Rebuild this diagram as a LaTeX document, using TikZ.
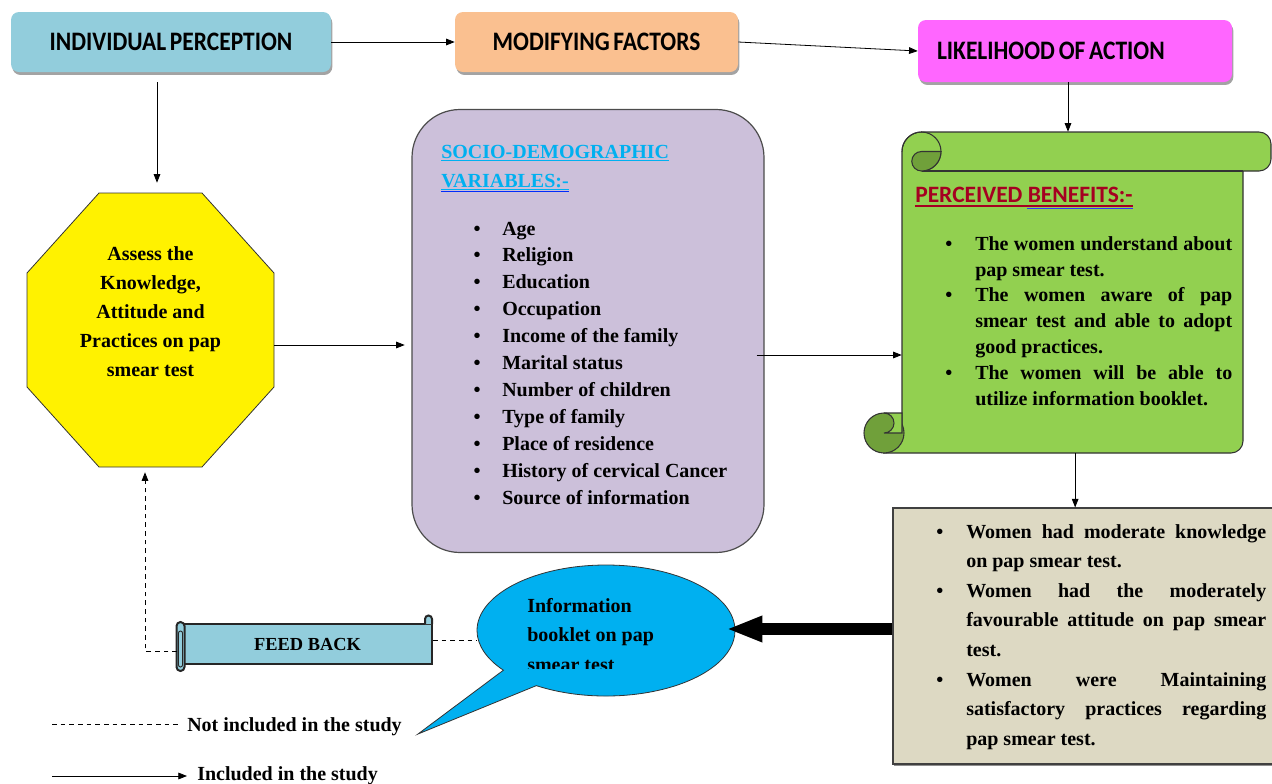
\documentclass[tikz,border=0pt]{standalone}
\usepackage{fontspec}
\usepackage{graphicx}
\setmainfont{Liberation Serif}
\newfontfamily\calibfont{Carlito}
\usetikzlibrary{arrows.meta,shapes.callouts,shadows}
\definecolor{ipblue}{RGB}{146,205,220}
\definecolor{peach}{RGB}{250,192,144}
\definecolor{mag}{RGB}{255,102,255}
\definecolor{lav}{RGB}{204,192,218}
\definecolor{grn}{RGB}{146,208,80}
\definecolor{dgrn}{RGB}{112,160,58}
\definecolor{beige}{RGB}{221,217,195}
\definecolor{cyanb}{RGB}{0,176,240}
\definecolor{crim}{RGB}{165,0,33}
\newcommand\bitem{\hangindent=22.5pt\hangafter=1\noindent\makebox[22.5pt][l]{\textbullet}}
\newcommand\condensed[1]{\raisebox{-1.6pt}{\scalebox{0.88}[1]{\spaceskip=0.16em plus 0.05em #1}}}
\begin{document}
\begin{tikzpicture}[x=0.75pt,y=-0.75pt,
  topbox/.style={rounded corners=6pt, minimum height=45pt, inner sep=0,
    font=\calibfont\bfseries\fontsize{20}{24}\selectfont,
    drop shadow={shadow xshift=1pt, shadow yshift=-2.2pt, fill=black!45, opacity=0.8}},
  con/.style={-{Triangle[length=6.5pt,width=5pt]}, line width=0.6pt},
  dashline/.style={dash pattern=on 3.5pt off 3pt, line width=0.6pt},
  bodytext/.style={font=\bfseries\fontsize{15}{19.5}\selectfont},
  invis/.style={inner sep=0}]
\useasboundingbox (0,0) rectangle (1272,783);
\coordinate (x157) at (157,0);
\coordinate (x145) at (145,0);
\coordinate (y640) at (0,640);

% top boxes
\node[topbox, fill=ipblue, minimum width=240pt] (ip) at (171,42) {\condensed{INDIVIDUAL PERCEPTION}};
\node[topbox, fill=peach, minimum width=212.25pt] (mf) at (596.5,42) {\condensed{MODIFYING FACTORS}};
\node[topbox, fill=mag, minimum height=46.5pt, text width=207pt, align=left, inner xsep=14.25pt] (la) at (1075,51) {\condensed{LIKELIHOOD OF ACTION}};

% octagon
\draw[fill=yellow, draw=black!80, line width=0.6pt] (99,193) -- (202,193) -- (274,273) -- (274,387) -- (202,467) -- (99,467) -- (27,387) -- (27,273) -- cycle;
\node[invis, minimum width=185.25pt, minimum height=205.5pt] (oct) at (150.5,330) {};
\node[bodytext, font=\bfseries\fontsize{15}{21.75}\selectfont, align=center, anchor=north, inner sep=0] (octtext) at (150.5,246) {Assess the\\Knowledge,\\Attitude and\\Practices on pap\\smear test};

% socio-demographic box
\node[draw=black!70, line width=0.9pt, fill=lav, rounded corners=36pt, minimum width=264pt, minimum height=332.25pt, inner sep=0] (socio) at (588,331) {};
\node[bodytext, text=cyanb, anchor=base west, inner sep=0] (sdt1) at (441,158) {\underline{SOCIO-DEMOGRAPHIC}};
\node[bodytext, text=cyanb, anchor=base west, inner sep=0] (sdt2) at (441,187) {\underline{VARIABLES:-}};
\draw[blue!75!cyanb, line width=0.7pt] ([yshift=-3.6pt]sdt2.base west) -- ([yshift=-3.6pt]sdt2.base east);
\foreach \t [count=\i from 0] in {Age,Religion,Education,Occupation,Income of the family,Marital status,Number of children,Type of family,Place of residence,History of cervical Cancer,Source of information}{
  \node[bodytext, anchor=base west, inner sep=0] (sd\i) at (502,{235+26.9*\i}) {\t};
  \node[bodytext, anchor=base, inner sep=0] (sdb\i) at (477,{235+26.9*\i}) {\textbullet};
}

% green scroll
\draw[fill=grn, draw=black!80, line width=0.8pt] (902,433) -- (902,151.5)
  arc[start angle=180, end angle=270, radius=19.5] -- (1259,132)
  arc[start angle=270, end angle=360, radius=12] -- (1271,159)
  arc[start angle=0, end angle=90, radius=12] -- (1243,171) -- (1243,441)
  arc[start angle=0, end angle=90, radius=12] -- (884,453) -- cycle;
\draw[draw=black!80, line width=0.8pt] (921.5,171) -- (1243,171);
\draw[draw=black!80, line width=0.8pt] (902,151.5) arc[start angle=180, end angle=450, radius=19.5];
\draw[fill=dgrn, draw=black!80, line width=0.8pt] (921.5,151.5) -- (941,151.5) arc[start angle=0, end angle=90, radius=19.5] arc[start angle=90, end angle=270, radius=9.75] -- cycle;
\draw[fill=dgrn, draw=black!80, line width=0.8pt] (884,433) circle[radius=20];
\draw[fill=grn, draw=black!80, line width=0.8pt] (884,413) -- (902,413) -- (902,433) -- (884,433) arc[start angle=90, end angle=-90, radius=10] -- cycle;
\node[invis, minimum width=255.75pt, minimum height=240.75pt] (pb) at (1072.5,292.5) {};
\node[font=\calibfont\bfseries\fontsize{17.6}{20}\selectfont, text=crim, anchor=base west, inner sep=0] (pbt) at (915,202) {PERCEIVED BENEFITS:-};
\draw[crim, line width=0.8pt] ([yshift=-3pt]pbt.base west) -- ([yshift=-3pt]pbt.base east);
\draw[blue!80, line width=0.8pt] ([yshift=-4.6pt, xshift=84pt]pbt.base west) -- ([yshift=-4.6pt]pbt.base east);
\node[bodytext, font=\bfseries\fontsize{15}{19.4}\selectfont, text width=215.25pt, align=justify, anchor=north west, inner sep=0] (pblist) at (945,236) {%
\hyphenpenalty=10000\exhyphenpenalty=10000
\bitem The women understand about pap smear test.\par
\bitem The women aware of pap smear test and able to adopt good practices.\par
\bitem The women will be able to utilize information booklet.\par};

% beige box
\node[draw=black!75, line width=0.8pt, fill=beige, minimum width=287.25pt, minimum height=192pt, inner sep=0,
  drop shadow={shadow xshift=0.6pt, shadow yshift=-1.6pt, fill=black!55, opacity=0.8}] (beige) at (1084.5,636) {};
\node[bodytext, font=\bfseries\fontsize{15}{22.2}\selectfont, text width=247.5pt, align=justify, anchor=north west, inner sep=0] (blist) at (936,524) {%
\hyphenpenalty=10000\exhyphenpenalty=10000
\bitem Women had moderate knowledge on pap smear test.\par
\bitem Women had the moderately favourable attitude on pap smear test.\par
\bitem Women were Maintaining satisfactory practices regarding pap smear test.\par};

% speech bubble
\node[ellipse callout, draw=black!80, line width=0.6pt, fill=cyanb, minimum width=193.5pt, minimum height=98.25pt, inner sep=0,
  callout absolute pointer={(418,734)}, callout pointer arc=20] (bubble) at (606,630.5) {};
\begin{scope}
\clip (440,560) rectangle (760,668);
\node[bodytext, font=\bfseries\fontsize{15}{22.1}\selectfont, align=left, anchor=north west, inner sep=0] (booktext) at (527,598) {Information\\booklet on pap\\smear test};
\end{scope}

% feed back scroll
\node[draw=black!85, line width=1.5pt, fill=ipblue, minimum width=186.75pt, minimum height=30pt, inner sep=0,
  font=\bfseries\fontsize{13.8}{16}\selectfont] (fb) at (307.5,644) {FEED BACK};
\draw[draw=black!85, line width=1.5pt, fill=ipblue] (425,624) -- (425,619) arc[start angle=180, end angle=360, radius=3.5] -- (432,624);
\draw[draw=black!85, line width=1.5pt, fill=ipblue, rounded corners=3pt] (176.5,622) rectangle (184.5,671);
\draw[draw=black!85, line width=0.7pt, rounded corners=1.5pt] (178.5,631) rectangle (182.5,667);

% connectors
\draw[con] (ip.east) -- (mf.west);
\draw[con] (mf.east) -- (la.west);
\draw[con] ([xshift=-5.25pt]la.south) -- ([xshift=-5.25pt]la.south |- pb.north);
\draw[con, shorten <=7.5pt, shorten >=7.5pt] (ip.south -| x157) -- (oct.north -| x157);
\draw[con, shorten >=5pt] ([yshift=-11.25pt]oct.east) -- ([yshift=-11.25pt]oct.east -| socio.west);
\draw[con, shorten <=-6pt] ([yshift=-18pt]socio.east) -- ([yshift=-18pt]socio.east -| pb.west);
\draw[con] ([xshift=2pt]pb.south) -- ([xshift=2pt]pb.south |- beige.north);
\draw[line width=9pt, -{Triangle[length=27pt,width=18pt]}] ([yshift=5.25pt]beige.west) -- ([yshift=5.25pt, xshift=-6.75pt]beige.west -| bubble.east);
\draw[dashline] (fb.east |- y640) -- (bubble.west |- y640);
\coordinate (fbl) at (177,651);
\draw[dashline, -{Triangle[length=6.5pt,width=5pt]}, shorten >=3.75pt] (fbl) -- (fbl -| x145) -- (x145 |- oct.south);

% legend
\coordinate (lg1) at (52,724);
\node[bodytext, anchor=base west, inner sep=0] (lg1t) at (187,731) {Not included in the study};
\draw[dashline, shorten >=6.75pt] (lg1) -- (lg1 -| lg1t.west);
\coordinate (lg2) at (52,776);
\node[bodytext, anchor=base west, inner sep=0] (lg2t) at (197,780) {Included in the study};
\draw[con, shorten >=7.5pt] (lg2) -- (lg2 -| lg2t.west);
\end{tikzpicture}
\end{document}
